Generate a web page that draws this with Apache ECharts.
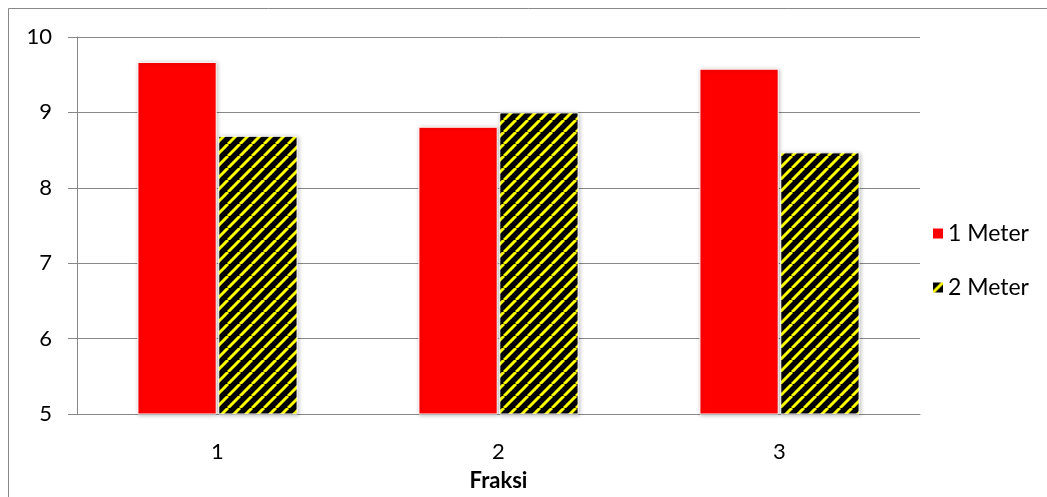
<!DOCTYPE html>
<html>
<head>
<meta charset="utf-8">
<script src="https://cdn.jsdelivr.net/npm/echarts@6/dist/echarts.min.js"></script>
<style>
  html, body { margin: 0; padding: 0; background: #fff; }
  #chart { width: 1047px; height: 497px; }
</style>
</head>
<body>
<div id="chart"></div>
<script>
// Fractions along the x axis and the value measured at each depth
const categories = ['1', '2', '3'];
const seriesNames = ['1 Meter', '2 Meter'];
const meter1 = [9.67, 8.81, 9.58];
const meter2 = [8.69, 9.0, 8.47];
const axisTitle = 'Fraksi';

// Black/yellow diagonal hatch used as the fill of the second series
function makeHatch() {
  const s = 12;
  const c = document.createElement('canvas');
  c.width = s; c.height = s;
  const g = c.getContext('2d');
  g.fillStyle = '#000';
  g.fillRect(0, 0, s, s);
  g.strokeStyle = '#ffff00';
  g.lineWidth = 3;
  for (const x0 of [-s, 0, s]) {
    g.beginPath();
    g.moveTo(x0, s);
    g.lineTo(x0 + s, 0);
    g.stroke();
  }
  return c;
}

const font = 'Lato, "Open Sans", sans-serif';
const gridColor = '#888888';
const barShadow = {
  borderColor: '#ffffff',
  borderWidth: 1,
  shadowColor: 'rgba(0,0,0,0.25)',
  shadowBlur: 4,
  shadowOffsetX: 1,
  shadowOffsetY: 1
};

const chart = echarts.init(document.getElementById('chart'), null, { renderer: 'canvas' });
chart.setOption({
  animation: false,
  backgroundColor: '#ffffff',
  textStyle: { fontFamily: font },
  graphic: [{
    type: 'rect',
    shape: { x: 8.5, y: 8.5, width: 1100, height: 600 },
    style: { fill: 'none', stroke: '#888888', lineWidth: 1 },
    silent: true,
    z: -10
  }],
  grid: { left: 77, right: 127, top: 37, bottom: 83, containLabel: false },
  legend: {
    orient: 'vertical',
    left: 926,
    top: 217,
    itemWidth: 12,
    itemHeight: 12,
    itemGap: 31,
    icon: 'rect',
    textStyle: { fontSize: 23, color: '#000', fontFamily: font, padding: [0, 0, 0, -1] },
    data: seriesNames
  },
  xAxis: {
    type: 'category',
    data: categories,
    name: axisTitle,
    nameLocation: 'middle',
    nameGap: 56,
    nameTextStyle: { fontSize: 22, fontWeight: 'bold', color: '#000', fontFamily: font },
    axisLine: { lineStyle: { color: gridColor, width: 1 } },
    axisTick: { show: false },
    axisLabel: { fontSize: 22, color: '#000', margin: 27, fontFamily: font }
  },
  yAxis: {
    type: 'value',
    min: 5,
    max: 10,
    interval: 1,
    axisLine: { show: true, lineStyle: { color: gridColor, width: 1 } },
    axisTick: { show: true, length: 9, lineStyle: { color: gridColor } },
    axisLabel: { fontSize: 22, color: '#000', margin: 25, fontFamily: font },
    splitLine: { lineStyle: { color: gridColor, width: 1 } }
  },
  series: [
    {
      name: seriesNames[0],
      type: 'bar',
      data: meter1,
      barGap: '2%',
      barCategoryGap: '43%',
      itemStyle: Object.assign({ color: '#ff0000' }, barShadow)
    },
    {
      name: seriesNames[1],
      type: 'bar',
      data: meter2,
      barGap: '2%',
      barCategoryGap: '43%',
      itemStyle: Object.assign({ color: { image: makeHatch(), repeat: 'repeat' } }, barShadow)
    }
  ]
});
</script>
</body>
</html>
